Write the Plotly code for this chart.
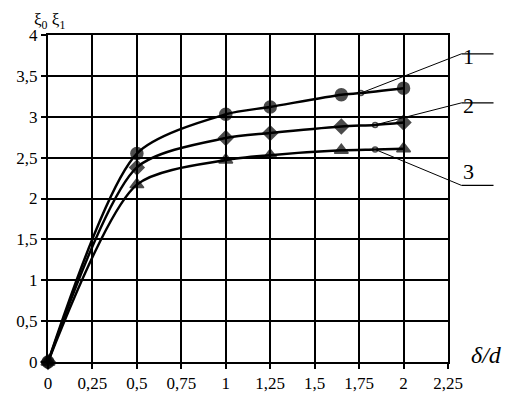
import plotly.graph_objects as go

# data
x1 = [0, 0.5, 1, 1.25, 1.65, 1.76, 2]
y1 = [0, 2.55, 3.03, 3.12, 3.27, 3.29, 3.35]
x2 = [0, 0.5, 1, 1.25, 1.65, 1.84, 2]
y2 = [0, 2.38, 2.74, 2.80, 2.88, 2.90, 2.93]
x3 = [0, 0.5, 1, 1.25, 1.65, 1.84, 2]
y3 = [0, 2.17, 2.47, 2.53, 2.59, 2.60, 2.61]

x_ticks = [0, 0.25, 0.5, 0.75, 1, 1.25, 1.5, 1.75, 2, 2.25]
x_labels = ["0", "0,25", "0,5", "0,75", "1", "1,25", "1,5", "1,75", "2", "2,25"]
y_ticks = [0, 0.5, 1, 1.5, 2, 2.5, 3, 3.5, 4]
y_labels = ["0", "0,5", "1", "1,5", "2", "2,5", "3", "3,5", "4"]

labels = ["1", "2", "3"]
# leader line anchor points (on curves) and label positions, in data units
lead_start = [(1.76, 3.29), (1.84, 2.90), (1.84, 2.60)]
lead_elbow = [(2.326, 3.77), (2.326, 3.17), (2.326, 2.16)]
lead_end_x = 2.506
label_pos = [(2.41, 3.92), (2.41, 3.31), (2.41, 2.33)]

XMAX, YMAX = 2.25, 4.0
FONT = "Liberation Serif"

fig = go.Figure()

def add_curve(x, y, sym, size):
    symbols = [sym] * len(x)
    sizes = [size] * len(x)
    symbols[5] = "circle-open"
    sizes[5] = 5
    fig.add_trace(go.Scatter(
        x=x, y=y, mode="lines+markers",
        line=dict(color="black", width=2.5, shape="spline", smoothing=0.75),
        marker=dict(symbol=symbols, size=sizes, color="black",
                    line=dict(color="black", width=1.5)),
        showlegend=False, cliponaxis=False))

add_curve(x1, y1, "circle", 12)
add_curve(x2, y2, "diamond", 11)
add_curve(x3, y3, "triangle-up", 12)

shapes = []
annotations = []
for (sx, sy), (ex, ey), lab, (lx, ly) in zip(lead_start, lead_elbow, labels, label_pos):
    shapes.append(dict(type="line", xref="paper", yref="paper",
                       x0=sx / XMAX, y0=sy / YMAX, x1=ex / XMAX, y1=ey / YMAX,
                       line=dict(color="black", width=1)))
    shapes.append(dict(type="line", xref="paper", yref="paper",
                       x0=ex / XMAX, y0=ey / YMAX, x1=lead_end_x / XMAX, y1=ey / YMAX,
                       line=dict(color="black", width=1.2)))
    annotations.append(dict(xref="paper", yref="paper", x=lx / XMAX, y=ly / YMAX,
                            text=lab, showarrow=False,
                            font=dict(family=FONT, size=22, color="black")))

annotations.append(dict(xref="paper", yref="paper", x=-0.04, y=1.083,
                        xanchor="left", yanchor="top",
                        text="ξ<sub>0</sub> ξ<sub>1</sub>", showarrow=False,
                        font=dict(family=FONT, size=17, color="black")))
annotations.append(dict(xref="paper", yref="paper", x=1.052, y=-0.025,
                        xanchor="left", yanchor="bottom",
                        text="<i>δ/d</i>", showarrow=False,
                        font=dict(family=FONT, size=24, color="black")))

axis_common = dict(showgrid=True, gridcolor="black", gridwidth=2,
                   showline=True, linecolor="black", linewidth=2, mirror=True,
                   ticks="outside", ticklen=5, tickwidth=1.5, tickcolor="black",
                   zeroline=False, automargin=False,
                   tickfont=dict(family=FONT, size=17, color="black"))

# the page adds an 8px body margin, so the figure is offset by (8, 8)
fig.update_layout(
    width=503, height=386,
    margin=dict(l=40, r=63, t=27, b=32),
    paper_bgcolor="white", plot_bgcolor="white",
    xaxis=dict(range=[0, XMAX], tickvals=x_ticks, ticktext=x_labels, **axis_common),
    yaxis=dict(range=[0, YMAX], tickvals=y_ticks, ticktext=y_labels, **axis_common),
    shapes=shapes, annotations=annotations,
)

fig.write_html("out.html")
